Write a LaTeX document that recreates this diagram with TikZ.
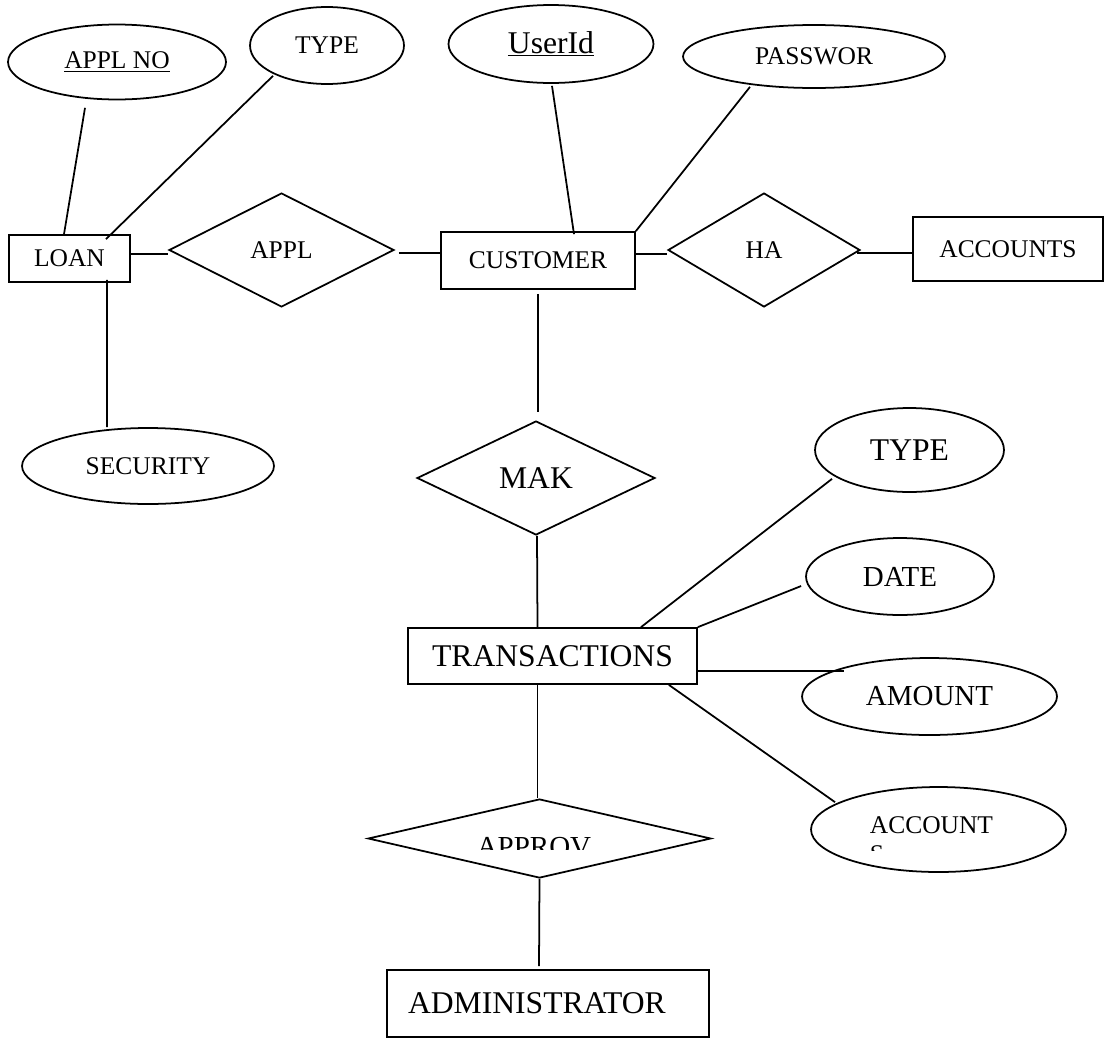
\documentclass[tikz,border=0pt]{standalone}
\usepackage{fontspec}
\setmainfont{Liberation Serif}
\usetikzlibrary{shapes.geometric,calc}

\begin{document}
\begin{tikzpicture}[x=0.02cm,y=-0.02cm,line width=1pt,
	entity/.style={draw,rectangle,inner sep=0pt},
	attrib/.style={draw,ellipse,inner sep=0pt},
	relation/.style={draw,diamond,aspect=2,inner sep=0pt},
	smalltxt/.style={font=\fontsize{14.5}{17}\selectfont},
	midtxt/.style={font=\fontsize{16.5}{19}\selectfont},
	bigtxt/.style={font=\fontsize{18}{21}\selectfont}]
	\useasboundingbox (0,0) rectangle (1105,1038);

	%entities
	\node[entity,smalltxt,minimum width=2.42cm,minimum height=0.94cm] (loan) at (69.5,258.5) {LOAN}; %loan box
	\node[entity,smalltxt,minimum width=3.88cm,minimum height=1.14cm] (cust) at (538,260.5) {CUSTOMER}; %customer box
	\node[entity,smalltxt,minimum width=3.8cm,minimum height=1.28cm] (accounts) at (1008,249) {ACCOUNTS}; %accounts box
	\node[entity,bigtxt,minimum width=5.78cm,minimum height=1.12cm] (trans) at (552.5,656) {TRANSACTIONS}; %transactions box
	\node[entity,bigtxt,minimum height=1.34cm,text width=5.6cm,inner xsep=0.42cm,align=left] (admin) at (548,1003.5) {ADMINISTRATOR}; %admin box

	%relations
	\node[relation,smalltxt,minimum width=4.5cm,minimum height=2.28cm] (appl) at (281.5,250) {APPL}; %applies
	\node[relation,smalltxt,minimum width=3.84cm,minimum height=2.28cm] (ha) at (764,250) {HA}; %has
	\node[relation,bigtxt,minimum width=4.76cm,minimum height=2.28cm] (mak) at (536,478) {MAK}; %makes
	\node[relation,aspect=4,minimum width=6.86cm,minimum height=1.58cm] (approv) at (539.5,838.5) {}; %approves
	\begin{scope}
		\clip (360,800) rectangle (720,849);
		\node[midtxt,anchor=base,inner sep=0pt] (approvtxt) at (534,856) {APPROV}; %cut label
	\end{scope}

	%attributes
	\node[attrib,smalltxt,minimum width=4.36cm,minimum height=1.5cm] (applno) at (117,62) {\underline{APPL NO}};
	\node[attrib,smalltxt,minimum width=3.08cm,minimum height=1.54cm] (ltype) at (327,45.5) {TYPE};
	\node[attrib,smalltxt,minimum width=5.04cm,minimum height=1.52cm] (security) at (148,466) {SECURITY};
	\node[attrib,bigtxt,minimum width=4.1cm,minimum height=1.56cm] (userid) at (551,44) {\underline{UserId}};
	\node[attrib,smalltxt,minimum width=5.24cm,minimum height=1.26cm] (passwor) at (814,56.5) {PASSWOR};
	\node[attrib,bigtxt,minimum width=3.78cm,minimum height=1.68cm] (ttype) at (909.5,450) {TYPE};
	\node[attrib,midtxt,minimum width=3.76cm,minimum height=1.54cm] (date) at (900,576.5) {DATE};
	\node[attrib,midtxt,minimum width=5.1cm,minimum height=1.54cm] (amount) at (929.5,696.5) {AMOUNT};
	\node[attrib,minimum width=5.1cm,minimum height=1.7cm] (accts) at (938.5,829.5) {};
	\node[smalltxt,anchor=base west,inner sep=0pt] (acctstxt) at (869,833) {ACCOUNT};
	\begin{scope}
		\clip (860,840) rectangle (900,850);
		\node[smalltxt,anchor=base west,inner sep=0pt] (acctss) at (869,862) {S}; %cut second line
	\end{scope}

	%loan side
	\draw ($(applno.south)+(-32,7.5)$) -- ($(loan.north)+(-5.5,0)$);
	\draw ($(ltype.south)+(-54,-9)$) -- ($(loan.north)+(36.5,5)$);
	\draw ($(loan.south)+(37.5,-3)$) -- ($(security.north)+(-41,0)$);
	\draw ($(loan.east)+(0,-4.5)$) -- ($(appl.west)+(0,4)$);
	\draw ($(appl.east)+(4,3)$) -- ($(cust.west)+(0,-7.5)$);

	%customer side
	\draw ($(userid.south)+(1,2)$) -- ($(cust.north)+(36,3)$);
	\draw ($(passwor.south)+(-64,-2)$) -- (cust.north east);
	\draw ($(cust.east)+(0,-6.5)$) -- ($(ha.west)+(0,4)$);
	\draw ($(ha.east)+(-4,3)$) -- ($(accounts.west)+(0,4)$);
	\draw ($(cust.south)+(0,4)$) -- ($(mak.north)+(2,-8)$);
	\draw ($(mak.south)+(1,0)$) -- ($(trans.north)+(-15,0)$);

	%transactions side
	\draw ($(ttype.south)+(-77.5,-14)$) -- ($(trans.north)+(88.5,0)$);
	\draw ($(date.west)+(-4,9.5)$) -- (trans.north east);
	\draw ($(trans.east)+(0,15)$) -- ($(amount.west)+(43,-25.5)$);
	\draw ($(trans.south east)+(-29,0)$) -- ($(accts.north)+(-103.5,16)$);
	\draw ($(trans.south)+(-15,0)$) -- ($(approv.north)+(-2,0)$);
	\draw (approv.south) -- ($(admin.north)+(-9,-3)$);
\end{tikzpicture}
\end{document}
